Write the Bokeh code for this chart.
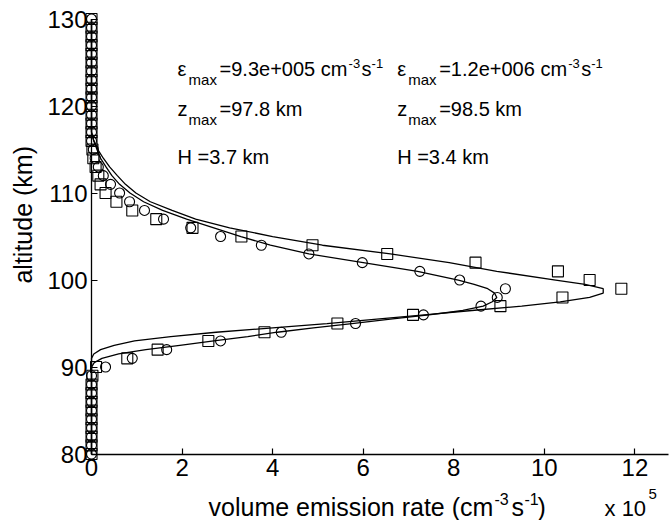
import math
from bokeh.plotting import figure
from bokeh.models import Range1d, LinearAxis, Label, FixedTicker
from bokeh.embed import file_html
from bokeh.resources import INLINE

# ---- data (values in units of 1e5 cm^-3 s^-1, altitude in km) ----
altitude = list(range(80, 131))
rate_squares = [0, 0, 0, 0, 0, 0, 0, 0, 0,
                0.02, 0.1, 0.79, 1.46, 2.58, 3.82, 5.43, 7.1, 9.03, 10.4, 11.7,
                11.0, 10.3, 8.48, 6.53, 4.88, 3.31, 2.23, 1.43, 0.9, 0.55,
                0.31, 0.2, 0.15, 0.09, 0.04, 0.02,
                0, 0, 0, 0, 0, 0, 0, 0, 0, 0, 0, 0, 0, 0, 0]
rate_circles = [0, 0, 0, 0, 0, 0, 0, 0, 0, 0,
                0.31, 0.9, 1.66, 2.85, 4.19, 5.83, 7.33, 8.6, 8.96, 9.14,
                8.13, 7.25, 5.98, 4.8, 3.75, 2.85, 2.19, 1.59, 1.17, 0.84,
                0.62, 0.42, 0.26, 0.15, 0.08, 0.04,
                0, 0, 0, 0, 0, 0, 0, 0, 0, 0, 0, 0, 0, 0, 0]

fit1_alt = [80, 90.0, 90.5, 91.0, 91.5, 92.0, 92.5, 93.0, 93.5, 94.0, 94.5, 95.0, 95.5,
            96.0, 96.5, 97.0, 97.5, 98.0, 98.5, 99.0, 99.5, 100, 101, 102, 103, 104,
            105, 106, 107, 108, 109, 110, 111, 112, 113, 114, 115, 116, 117, 130]
fit1_rate = [0, 0.0, 0.06, 0.23, 0.6, 1.2, 1.95, 2.7, 3.45, 4.1, 4.9, 5.75, 6.6,
             7.45, 8.2, 8.65, 8.85, 8.95, 8.9, 8.75, 8.45, 8.1, 7.2, 6.0, 4.8, 3.95,
             3.3, 2.7, 2.1, 1.57, 1.15, 0.85, 0.62, 0.45, 0.32, 0.2, 0.12, 0.05, 0.0, 0]

fit2_alt = [80, 91.0, 91.5, 92.0, 92.5, 93.0, 93.5, 94.0, 94.5, 95.0, 95.5, 96.0, 96.5,
            97.0, 97.5, 98.0, 98.5, 99.0, 99.5, 100, 101, 102, 103, 104, 105, 106,
            107, 108, 109, 110, 111, 112, 113, 114, 115, 116, 117, 130]
fit2_rate = [0, 0.0, 0.05, 0.2, 0.5, 0.95, 1.75, 2.75, 4.0, 5.2, 6.3, 7.35, 8.4,
             9.5, 10.35, 11.0, 11.3, 11.3, 10.9, 10.25, 8.95, 7.9, 6.6, 5.1, 4.0, 3.05,
             2.3, 1.78, 1.3, 0.98, 0.75, 0.57, 0.4, 0.26, 0.14, 0.05, 0.0, 0]

x_ticks = [0, 2, 4, 6, 8, 10, 12]
y_ticks = [80, 90, 100, 110, 120, 130]

col1_texts = ["=9.3e+005 cm", "=97.8 km", "H =3.7 km"]
col2_texts = ["=1.2e+006 cm", "=98.5 km", "H =3.4 km"]

FONT = "Liberation Sans"

# The frame spans the whole canvas; axes are placed at x=0 / y=80 with bounds.
p = figure(width=672, height=520, output_backend="svg", toolbar_location=None,
           x_range=Range1d(-2.01, 12.83), y_range=Range1d(72.36, 132.13),
           x_axis_type=None, y_axis_type=None,
           min_border_left=0, min_border_right=0, min_border_top=0, min_border_bottom=0)
p.outline_line_color = None
p.background_fill_color = "white"
p.border_fill_color = "white"

xaxis = LinearAxis(fixed_location=80, bounds=(0, 12.75), ticker=FixedTicker(ticks=x_ticks))
yaxis = LinearAxis(fixed_location=0, bounds=(80, 130), ticker=FixedTicker(ticks=y_ticks))
for ax in (xaxis, yaxis):
    ax.major_tick_in = 6
    ax.major_tick_out = 0
    ax.minor_tick_line_color = None
    ax.axis_line_width = 1.3
    ax.major_tick_line_width = 1.2
    ax.axis_line_color = "black"
    ax.major_tick_line_color = "black"
    ax.major_label_text_font = FONT
    ax.major_label_text_font_size = "24px"
    ax.major_label_text_color = "black"
xaxis.major_label_standoff = 5
yaxis.major_label_standoff = 4
p.add_layout(xaxis, "below")
p.add_layout(yaxis, "left")

# fitted profiles
p.line(fit1_rate, fit1_alt, line_color="black", line_width=1.3)
p.line(fit2_rate, fit2_alt, line_color="black", line_width=1.3)

# measured points
p.scatter(rate_squares, altitude, marker="square", size=11, fill_color=None,
          line_color="black", line_width=1.1)
p.scatter(rate_circles, altitude, marker="circle", size=10, fill_color=None,
          line_color="black", line_width=1.1)


def lab(x, y, text, size, xo=0, yo=0, **kw):
    p.add_layout(Label(x=x, y=y, x_offset=xo, y_offset=yo, text=text,
                       text_font=FONT, text_font_size=size, text_color="black",
                       text_baseline="alphabetic", **kw))


# annotations
line_y = [124.3, 119.7, 114.1]
for cx, texts in ((1.9, col1_texts), (6.75, col2_texts)):
    lab(cx, line_y[0], "\u03b5", "20px")
    lab(cx, line_y[0], "max", "15px", xo=11, yo=-11)
    lab(cx, line_y[0], texts[0], "20px", xo=42)
    lab(cx, line_y[0], "-3", "13px", xo=171, yo=5)
    lab(cx, line_y[0], "s", "20px", xo=184)
    lab(cx, line_y[0], "-1", "13px", xo=194, yo=5)
    lab(cx, line_y[1], "z", "20px")
    lab(cx, line_y[1], "max", "15px", xo=11, yo=-11)
    lab(cx, line_y[1], texts[1], "20px", xo=42)
    lab(cx, line_y[2], texts[2], "20px")

# x axis label (with superscripts) and exponent
XL = -53
lab(0, 80, "volume emission rate (cm", "25px", xo=117, yo=XL)
lab(0, 80, "-3", "16px", xo=403, yo=XL + 8)
lab(0, 80, "s", "25px", xo=420, yo=XL)
lab(0, 80, "-1", "16px", xo=433, yo=XL + 8)
lab(0, 80, ")", "25px", xo=446, yo=XL)
lab(0, 80, "x 10", "22px", xo=513, yo=XL - 1)
lab(0, 80, "5", "15px", xo=557, yo=XL + 13)

# y axis label
p.add_layout(Label(x=0, y=107.5, x_offset=-69, text="altitude (km)", angle=math.pi / 2,
                   text_font=FONT, text_font_size="25px", text_color="black",
                   text_align="center", text_baseline="middle"))

open("out.html", "w").write(file_html(p, INLINE))
